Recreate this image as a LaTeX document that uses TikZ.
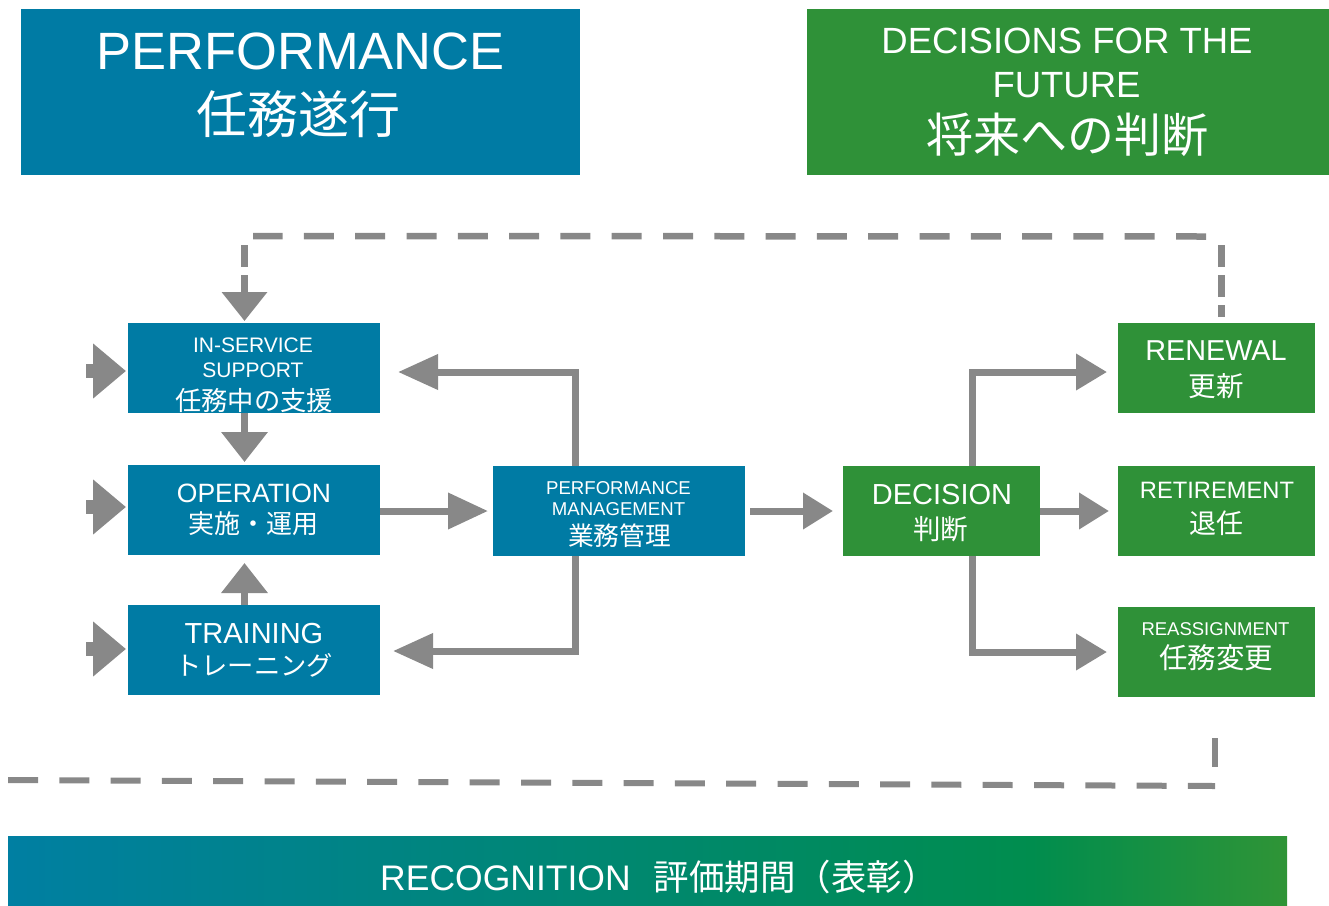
\documentclass[tikz,border=0pt]{standalone}
\usepackage{fontspec}
\setmainfont{Liberation Sans}
\newfontfamily\jpf{Noto Sans CJK JP}
\usetikzlibrary{arrows.meta}
\definecolor{pblue}{RGB}{0,123,164}
\definecolor{pgreen}{RGB}{47,145,56}
\definecolor{agray}{RGB}{136,136,136}
\definecolor{barA}{RGB}{0,127,162}
\definecolor{barB}{RGB}{0,141,78}
\definecolor{barC}{RGB}{47,148,54}
\pgfdeclarehorizontalshading{recog}{100bp}{color(0bp)=(barA); color(25bp)=(barA); color(65bp)=(barB); color(75bp)=(barC); color(100bp)=(barC)}
\newcommand{\fsz}[1]{\fontsize{#1}{#1}\selectfont}
\begin{document}
\begin{tikzpicture}[x=1pt, y=-1pt, line join=miter,
  bbox/.style={inner sep=0pt, outer sep=0pt},
  bluebox/.style={bbox, fill=pblue, minimum width=252pt, minimum height=90pt},
  greenbox/.style={bbox, fill=pgreen, minimum width=197pt, minimum height=90pt},
  txt/.style={text=white, anchor=base, inner sep=0pt},
  conn/.style={draw=agray, line width=7pt},
  dashh/.style={draw=agray, line width=6.5pt, dash pattern=on 30pt off 21.3pt},
  dashv/.style={draw=agray, line width=7pt, dash pattern=on 22pt off 8pt}]
\useasboundingbox (0,0) rectangle (1329,905);

% headers
\node[bbox, fill=pblue, minimum width=559pt, minimum height=166pt] (perf) at (300.5,92) {};
\node[txt, font=\fsz{52.5}] (perfE) at (300.5,69) {PERFORMANCE};
\node[txt, font=\jpf\fsz{51}] (perfJ) at (298.5,133.5) {任務遂行};

\node[bbox, fill=pgreen, minimum width=522pt, minimum height=166pt] (fut) at (1068,92) {};
\node[txt, font=\fsz{36.5}] (futE1) at (1067,53) {DECISIONS FOR THE};
\node[txt, font=\fsz{36.5}] (futE2) at (1066.5,97) {FUTURE};
\node[txt, font=\jpf\fsz{47}] (futJ) at (1067.5,152) {将来への判断};

% blue boxes
\node[bluebox] (iss) at (254,368) {};
\node[txt, font=\fsz{21}] (issE1) at (253,352) {IN-SERVICE};
\node[txt, font=\fsz{21}] (issE2) at (253,377) {SUPPORT};
\node[txt, font=\jpf\fsz{26.3}] (issJ) at (254,410.4) {任務中の支援};

\node[bluebox] (op) at (254,510) {};
\node[txt, font=\fsz{26.5}] (opE) at (254,502) {OPERATION};
\node[txt, font=\jpf\fsz{26}] (opJ) at (253,533.4) {実施・運用};

\node[bluebox] (tr) at (254,650) {};
\node[txt, font=\fsz{29}] (trE) at (254,643) {TRAINING};
\node[txt, font=\jpf\fsz{26.3}] (trJ) at (254,675) {トレーニング};

\node[bluebox] (pm) at (619,511) {};
\node[txt, font=\fsz{18.6}] (pmE1) at (618.5,494) {PERFORMANCE};
\node[txt, font=\fsz{18.6}] (pmE2) at (618.5,515) {MANAGEMENT};
\node[txt, font=\jpf\fsz{25.7}] (pmJ) at (619.5,545.5) {業務管理};

% green boxes
\node[greenbox] (dec) at (941.5,511) {};
\node[txt, font=\fsz{29}] (decE) at (942,504) {DECISION};
\node[txt, font=\jpf\fsz{27.5}] (decJ) at (940.5,539) {判断};

\node[greenbox] (ren) at (1216.5,368) {};
\node[txt, font=\fsz{28.8}] (renE) at (1216,360) {RENEWAL};
\node[txt, font=\jpf\fsz{27.5}] (renJ) at (1216,396) {更新};

\node[greenbox] (ret) at (1216.5,511) {};
\node[txt, font=\fsz{23.7}] (retE) at (1217,498) {RETIREMENT};
\node[txt, font=\jpf\fsz{27}] (retJ) at (1216,533) {退任};

\node[greenbox] (rea) at (1216.5,652) {};
\node[txt, font=\fsz{18.5}] (reaE) at (1215.5,635) {REASSIGNMENT};
\node[txt, font=\jpf\fsz{28.5}] (reaJ) at (1216,668) {任務変更};

% recognition bar
\node[bbox, shade, shading=recog, minimum width=1279pt, minimum height=69pt] (recog) at (647.5,870.5) {};
\node[txt, anchor=base west, font=\fsz{35.5}] (recogT) at (380,890) {RECOGNITION\hspace{23pt}{\jpf 評価期間（表彰）}};

% input arrows
\coordinate (in1) at (86,371);
\coordinate (in2) at (86,507);
\coordinate (in3) at (86,649);
\draw[conn, line width=14pt, shorten >=2pt, -{Triangle[length=33pt,width=53pt]}] (in1) -- (in1 -| iss.west);
\draw[conn, line width=14pt, shorten >=2pt, -{Triangle[length=33pt,width=53pt]}] (in2) -- (in2 -| op.west);
\draw[conn, line width=14pt, shorten >=2pt, -{Triangle[length=33pt,width=53pt]}] (in3) -- (in3 -| tr.west);

% connectors
\draw[conn, -{Triangle[length=30pt,width=45pt]}] ([xshift=-9.5pt]iss.south) -- ([xshift=-9.5pt,yshift=3pt]op.north);
\draw[conn, -{Triangle[length=30pt,width=45pt]}] ([xshift=-9.5pt]tr.north) -- ([xshift=-9.5pt,yshift=-8pt]op.south);
\draw[conn, -{Triangle[length=40pt,width=35pt]}] ([yshift=-1pt]op.east) -- ([xshift=-5pt]pm.west);
\draw[conn, -{Triangle[length=40pt,width=34pt]}] ([xshift=-44pt]pm.north) |- ([xshift=18pt,yshift=-4pt]iss.east);
\draw[conn, -{Triangle[length=40pt,width=34pt]}] ([xshift=-44pt]pm.south) |- ([xshift=13pt,yshift=-1pt]tr.east);
\draw[conn, -{Triangle[length=30pt,width=35pt]}] ([xshift=5pt]pm.east) -- ([xshift=-10pt]dec.west);
\draw[conn, -{Triangle[length=31pt,width=35pt]}] ([xshift=30.5pt]dec.north) |- ([xshift=-11pt,yshift=-4pt]ren.west);
\draw[conn, -{Triangle[length=30pt,width=35pt]}] (dec.east) -- ([xshift=-9pt]ret.west);
\draw[conn, -{Triangle[length=31pt,width=35pt]}] ([xshift=30.5pt]dec.south) |- ([xshift=-11pt]rea.west);

% top dashed feedback loop
\coordinate (ctr) at (1221,236.5);
\coordinate (ctl) at (244.5,236);
\draw[dashv, dash phase=10pt] ([xshift=4.5pt,yshift=6pt]ren.north) -- ([yshift=-8.5pt]ctr);
\draw[dashh] ([xshift=-15pt]ctr) -- ([xshift=8.5pt]ctl);
\draw[dashv, -{Triangle[length=29pt,width=44pt]}] ([yshift=-9pt]ctl) -- ([xshift=-9.5pt,yshift=2pt]iss.north);

% bottom dashed line
\coordinate (bv1) at (1215,738);
\coordinate (bv2) at (1215,767);
\draw[draw=agray, line width=6pt] (bv1) -- (bv2);
\coordinate (bh1) at (1215,786);
\coordinate (bh2) at (8,780);
\draw[dashh, line width=6pt, dash phase=2.9pt] (bh1) -- (bh2);
\end{tikzpicture}
\end{document}
